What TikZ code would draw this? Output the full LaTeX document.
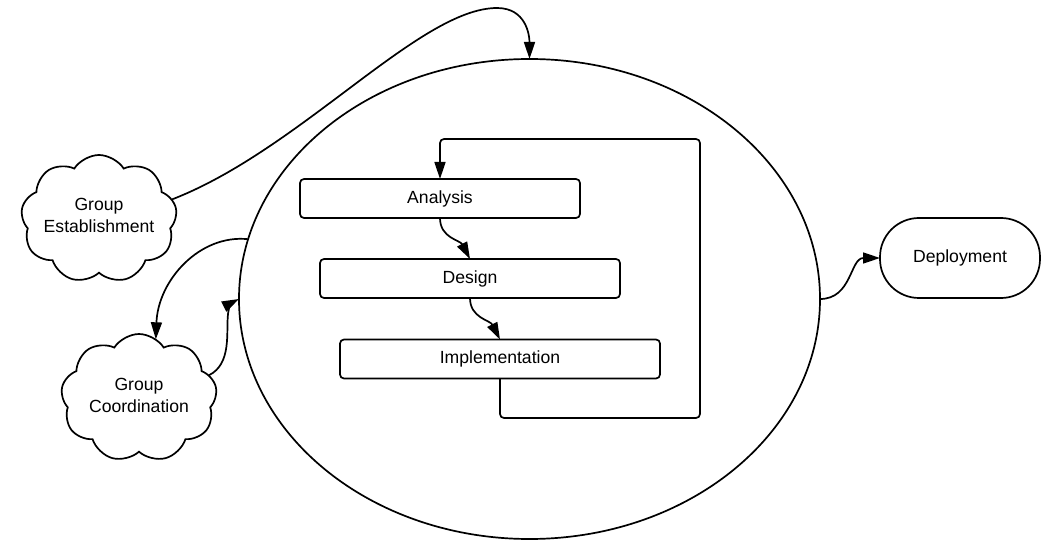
\documentclass[tikz,border=0pt]{standalone}
\usepackage{fontspec}
\setmainfont{Liberation Sans}
\usetikzlibrary{shapes.geometric,shapes.symbols,arrows.meta}
\begin{document}
\begin{tikzpicture}[x=1pt,y=-1pt,
  every node/.style={font=\fontsize{17.6}{22}\selectfont, align=center, inner sep=0pt, outer sep=0pt},
  lw/.style={line width=1.7pt},
  stepbox/.style={lw, draw, rectangle, rounded corners=4pt, minimum height=39pt},
  puff/.style={lw, draw, cloud, cloud puffs=9, cloud puff arc=115, cloud ignores aspect, minimum width=156pt, minimum height=128pt},
  arr/.style={lw, -{Triangle[length=17pt,width=11pt]}}]
\useasboundingbox (0,0) rectangle (1055,556);

\node[lw, draw, ellipse, minimum width=581pt, minimum height=480pt] (cyc) at (529.5,299) {};

\node[stepbox, minimum width=280pt] (ana) at (440,198.5) {Analysis};
\node[stepbox, minimum width=300pt] (des) at (470,278.5) {Design};
\node[stepbox, minimum width=320pt] (imp) at (500,359) {Implementation};

\node[lw, draw, rounded corners=39pt, minimum width=160pt, minimum height=80pt] (dep) at (960,258) {Deployment};

\node[puff] (est) at (99,219) {};
\node (estl) at ([yshift=4pt]est.center) {Group\\Establishment};
\node[puff] (coo) at (139,398) {};
\node (cool) at ([yshift=3pt]coo.center) {Group\\Coordination};

\coordinate (lb) at (700,418);
\coordinate (lt) at (700,139);

% feedback loop
\draw[arr, rounded corners=4pt] (imp.south) |- (lb) -- (lt) -| (ana.north);
% steps
\draw[arr] (ana.south) .. controls (440,238) and (460,240) .. (des.north);
\draw[arr] (des.south) .. controls (470,318) and (490,320) .. (imp.north);

% group establishment -> cycle
\draw[arr] (est.15) .. controls (300,150) and (420,8) .. (497,8) .. controls (526,8) and (529.5,35) .. (cyc.north);
% cycle -> group coordination
\draw[arr] (cyc.168) .. controls (200,234) and (158,280) .. (coo.74);
% group coordination -> cycle
\draw[arr] (coo.18) .. controls (232,364) and (226,332) .. (228,314) .. controls (229,305) and (233,302) .. (cyc.180);
% cycle -> deployment
\draw[arr] (cyc.east) .. controls (852,299) and (850,258) .. (dep.west);
\end{tikzpicture}
\end{document}
